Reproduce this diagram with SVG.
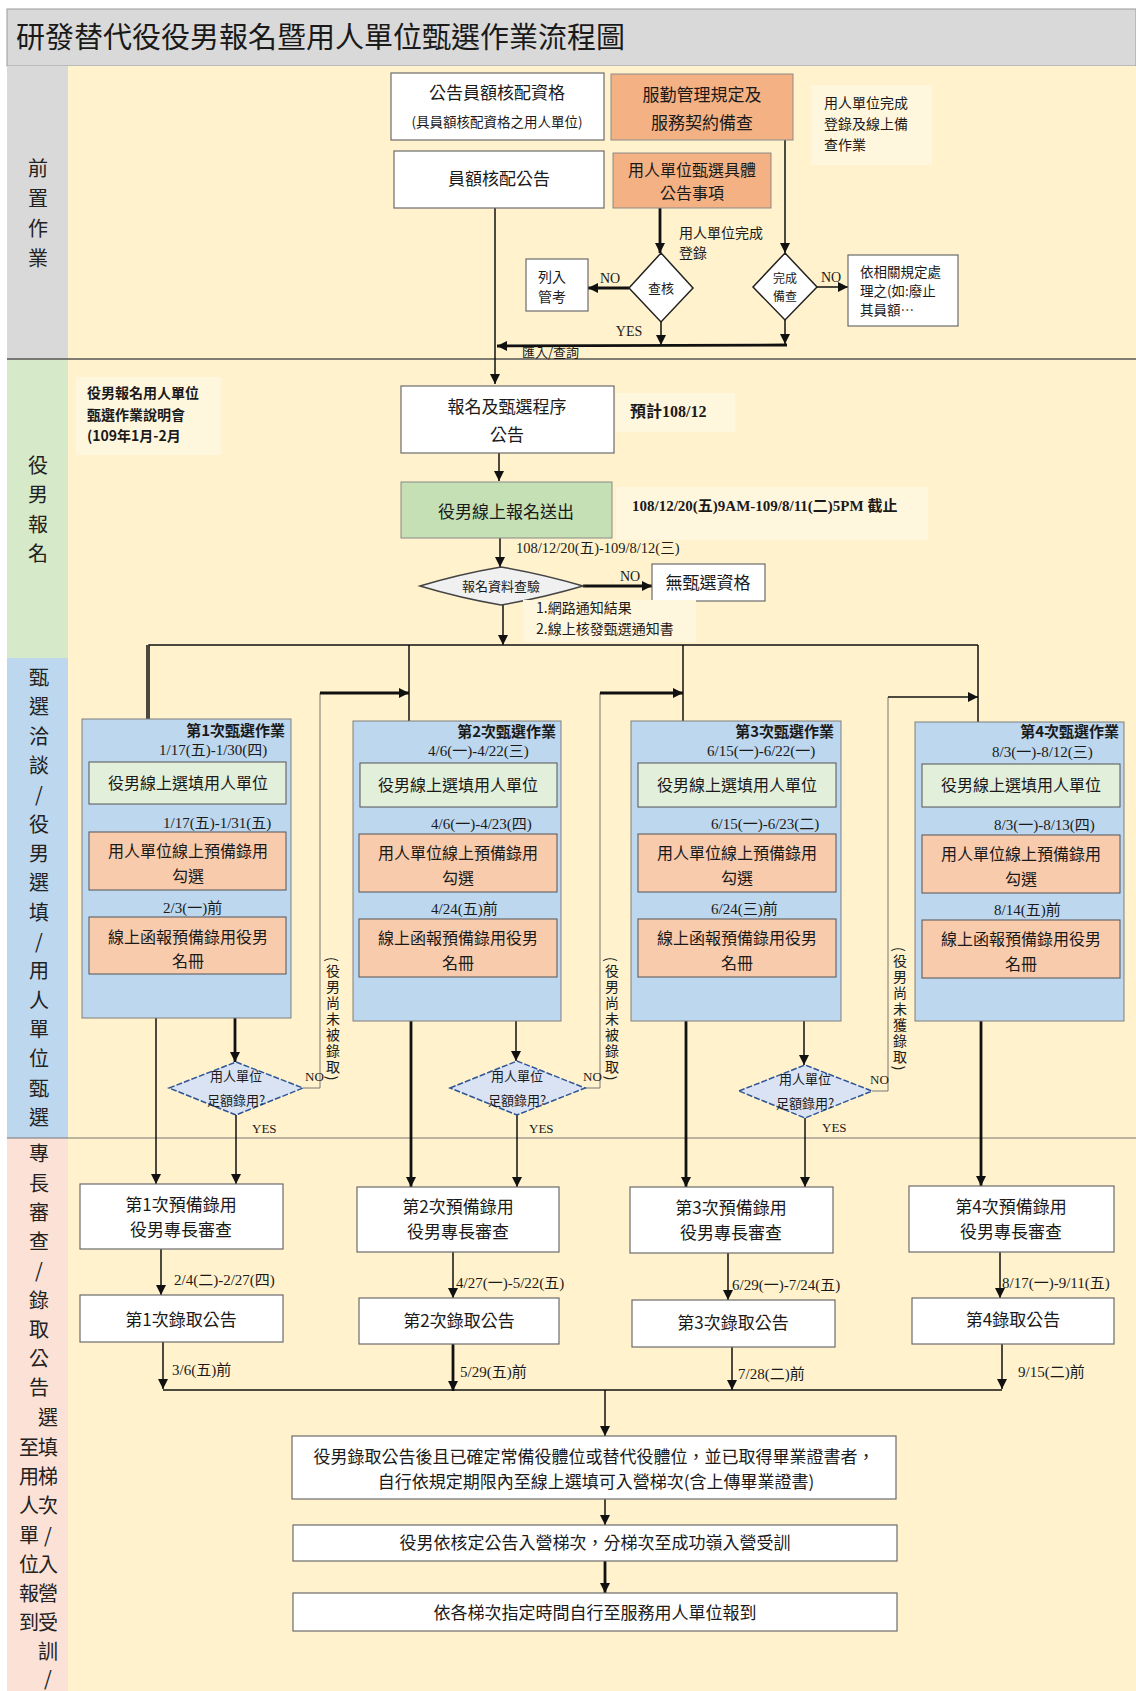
<svg xmlns="http://www.w3.org/2000/svg" width="1136" height="1691" viewBox="0 0 1136 1691">
<style>
.t{font-family:"Noto Sans CJK TC","Noto Sans CJK SC",sans-serif;fill:#1a1a1a}
.d{font-family:"Liberation Serif","Noto Sans CJK TC",serif;fill:#1a1a1a}
.c{text-anchor:middle}
.lab{font-family:"Noto Sans CJK TC",sans-serif;font-size:20px;fill:#222;text-anchor:middle}
.box{fill:#fff;stroke:#6b6b6b;stroke-width:1.2}
.or{fill:#f4b183;stroke:#8a8a8a;stroke-width:1}
.pb{fill:#bdd7ee;stroke:#7f7f7f;stroke-width:1}
.pg{fill:#e2efda;stroke:#555;stroke-width:1}
.po{fill:#f8cbad;stroke:#555;stroke-width:1}
.ln{stroke:#111;fill:none}
.th{stroke-width:1.5}
.tk{stroke-width:2.8}
.lp{stroke:#777;stroke-width:1;fill:none}
.dia{fill:#dae3f3;stroke:#2f5597;stroke-width:1.5;stroke-dasharray:6 2}
.note{fill:#fff6de}
.vt{font-family:"Noto Sans CJK TC",sans-serif;font-size:14px;fill:#1a1a1a;writing-mode:vertical-rl;letter-spacing:2px}
</style>
<defs>
<marker id="ah" viewBox="0 0 10 10" refX="10" refY="5" markerWidth="10" markerHeight="10" markerUnits="userSpaceOnUse" orient="auto">
<path d="M0,0 L10,5 L0,10 z" fill="#111"/>
</marker>
</defs>
<rect width="1136" height="1691" fill="#fff"/>
<!-- title bar -->
<rect x="7" y="9" width="1129" height="57" fill="#d9d9d9" stroke="#9a9a9a" stroke-width="1"/>
<text class="t" x="16" y="48" font-size="29">研發替代役役男報名暨用人單位甄選作業流程圖</text>
<!-- lanes -->
<rect x="7" y="66" width="1129" height="1625" fill="#fff2cc"/>
<rect x="7" y="66" width="61" height="293" fill="#d9d9d9"/>
<rect x="7" y="359" width="61" height="299" fill="#d6e9c8"/>
<rect x="7" y="658" width="61" height="480" fill="#bdd7ee"/>
<rect x="7" y="1138" width="61" height="553" fill="#fbe1d6"/>
<line x1="7" y1="359" x2="1136" y2="359" stroke="#555" stroke-width="1.5"/>
<line x1="7" y1="1138" x2="1136" y2="1138" stroke="#777" stroke-width="1"/>
<g id="lane-labels">
<text class="lab" x="38" y="176">前</text><text class="lab" x="38" y="206">置</text><text class="lab" x="38" y="236">作</text><text class="lab" x="38" y="266">業</text>
<text class="lab" x="38" y="473">役</text><text class="lab" x="38" y="502">男</text><text class="lab" x="38" y="532">報</text><text class="lab" x="38" y="561">名</text>
<text class="lab" x="39" y="685">甄</text><text class="lab" x="39" y="714">選</text><text class="lab" x="39" y="744">洽</text><text class="lab" x="39" y="773">談</text><text class="lab" x="39" y="802">/</text><text class="lab" x="39" y="832">役</text><text class="lab" x="39" y="861">男</text><text class="lab" x="39" y="890">選</text><text class="lab" x="39" y="920">填</text><text class="lab" x="39" y="949">/</text><text class="lab" x="39" y="978">用</text><text class="lab" x="39" y="1008">人</text><text class="lab" x="39" y="1037">單</text><text class="lab" x="39" y="1066">位</text><text class="lab" x="39" y="1096">甄</text><text class="lab" x="39" y="1125">選</text>
<text class="lab" x="39" y="1161">專</text><text class="lab" x="39" y="1191">長</text><text class="lab" x="39" y="1220">審</text><text class="lab" x="39" y="1249">查</text><text class="lab" x="39" y="1278">/</text><text class="lab" x="39" y="1308">錄</text><text class="lab" x="39" y="1337">取</text><text class="lab" x="39" y="1366">公</text><text class="lab" x="39" y="1395">告</text>
<text class="lab" x="48" y="1425">選</text><text class="lab" x="48" y="1455">填</text><text class="lab" x="48" y="1484">梯</text><text class="lab" x="48" y="1513">次</text><text class="lab" x="48" y="1543">/</text><text class="lab" x="48" y="1572">入</text><text class="lab" x="48" y="1601">營</text><text class="lab" x="48" y="1630">受</text><text class="lab" x="48" y="1659">訓</text><text class="lab" x="48" y="1686" font-size="14">/</text>
<text class="lab" x="29" y="1455">至</text><text class="lab" x="29" y="1484">用</text><text class="lab" x="29" y="1513">人</text><text class="lab" x="29" y="1543">單</text><text class="lab" x="29" y="1572">位</text><text class="lab" x="29" y="1601">報</text><text class="lab" x="29" y="1630">到</text>
</g>
<!-- connectors -->
<g id="connectors">
<line class="ln th" x1="495" y1="208" x2="495" y2="384" marker-end="url(#ah)" stroke-width="2"/>
<line class="ln tk" x1="660" y1="208" x2="660" y2="253" marker-end="url(#ah)"/>
<line class="ln tk" x1="629" y1="288" x2="588" y2="288" marker-end="url(#ah)"/>
<line class="ln th" x1="661" y1="322" x2="661" y2="345" marker-end="url(#ah)" stroke-width="2"/>
<line class="ln th" x1="785" y1="140" x2="785" y2="253" marker-end="url(#ah)" stroke-width="2"/>
<line class="ln th" x1="817" y1="287" x2="848" y2="287" marker-end="url(#ah)" stroke-width="2"/>
<line class="ln th" x1="785" y1="320" x2="785" y2="344" marker-end="url(#ah)" stroke-width="2"/>
<line class="ln tk" x1="787" y1="345" x2="497" y2="346" marker-end="url(#ah)" stroke-width="2.2"/>
<line class="ln th" x1="499" y1="453" x2="499" y2="481" marker-end="url(#ah)" stroke-width="2"/>
<line class="ln th" x1="500" y1="538" x2="500" y2="567" marker-end="url(#ah)" stroke-width="2"/>
<line class="ln tk" x1="583" y1="586" x2="652" y2="586" marker-end="url(#ah)"/>
<line class="ln th" x1="503" y1="605" x2="503" y2="645" marker-end="url(#ah)" stroke-width="2"/>
<polyline class="ln th" points="149,760 149,645 978,645" stroke-width="1.2"/>
<line class="ln th" x1="147" y1="645" x2="147" y2="762" marker-end="url(#ah)" stroke-width="2"/>
<line class="ln th" x1="409" y1="645" x2="409" y2="763" marker-end="url(#ah)"/>
<line class="ln th" x1="683" y1="645" x2="683" y2="763" marker-end="url(#ah)" stroke-width="2.2"/>
<line class="ln th" x1="978" y1="645" x2="978" y2="764" marker-end="url(#ah)" stroke-width="2"/>
<line class="ln th" x1="150" y1="804" x2="150" y2="832" marker-end="url(#ah)" stroke-width="2"/>
<line class="ln th" x1="152" y1="890" x2="152" y2="917" marker-end="url(#ah)" stroke-width="2"/>
<line class="ln th" x1="410" y1="807" x2="410" y2="834" marker-end="url(#ah)" stroke-width="2"/>
<line class="ln th" x1="414" y1="892" x2="414" y2="919" marker-end="url(#ah)" stroke-width="2"/>
<line class="ln th" x1="685" y1="807" x2="685" y2="834" marker-end="url(#ah)" stroke-width="2"/>
<line class="ln th" x1="685" y1="892" x2="685" y2="919" marker-end="url(#ah)" stroke-width="2"/>
<line class="ln th" x1="981" y1="807" x2="981" y2="835" marker-end="url(#ah)" stroke-width="2"/>
<line class="ln th" x1="981" y1="893" x2="981" y2="920" marker-end="url(#ah)" stroke-width="2"/>
<line class="ln th" x1="156" y1="974" x2="156" y2="1184" marker-end="url(#ah)"/>
<line class="ln tk" x1="235" y1="974" x2="235" y2="1062" marker-end="url(#ah)"/>
<line class="ln th" x1="236" y1="1115" x2="236" y2="1184" marker-end="url(#ah)"/>
<polyline class="lp" points="303,1088 320,1088 320,693"/>
<line class="ln tk" x1="320" y1="693" x2="409" y2="693" marker-end="url(#ah)"/>
<line class="ln tk" x1="411" y1="977" x2="411" y2="1187" marker-end="url(#ah)"/>
<line class="ln th" x1="516" y1="977" x2="516" y2="1061" marker-end="url(#ah)"/>
<line class="ln th" x1="517" y1="1115" x2="517" y2="1187" marker-end="url(#ah)" stroke-width="2"/>
<polyline class="lp" points="585,1088 600,1088 600,693"/>
<line class="ln tk" x1="600" y1="693" x2="683" y2="693" marker-end="url(#ah)"/>
<line class="ln tk" x1="686" y1="977" x2="686" y2="1187" marker-end="url(#ah)"/>
<line class="ln th" x1="804" y1="977" x2="804" y2="1065" marker-end="url(#ah)"/>
<line class="ln th" x1="805" y1="1118" x2="805" y2="1187" marker-end="url(#ah)"/>
<polyline class="lp" points="872,1091 888,1091 888,697"/>
<line class="ln th" x1="888" y1="697" x2="978" y2="697" marker-end="url(#ah)" stroke-width="2"/>
<line class="ln tk" x1="981" y1="978" x2="981" y2="1186" marker-end="url(#ah)"/>
<line class="ln th" x1="161" y1="1249" x2="161" y2="1295" marker-end="url(#ah)" stroke-width="2"/>
<line class="ln th" x1="453" y1="1252" x2="453" y2="1298" marker-end="url(#ah)" stroke-width="2"/>
<line class="ln th" x1="728" y1="1253" x2="728" y2="1300" marker-end="url(#ah)" stroke-width="1.5"/>
<line class="ln th" x1="1000" y1="1252" x2="1000" y2="1298" marker-end="url(#ah)" stroke-width="2"/>
<line class="ln th" x1="163" y1="1342" x2="163" y2="1389" marker-end="url(#ah)" stroke-width="2"/>
<line class="ln tk" x1="453" y1="1344" x2="453" y2="1391" marker-end="url(#ah)"/>
<line class="ln th" x1="732" y1="1347" x2="732" y2="1390" marker-end="url(#ah)"/>
<line class="ln th" x1="1002" y1="1344" x2="1002" y2="1389" marker-end="url(#ah)" stroke-width="2"/>
<line class="ln th" x1="163" y1="1390" x2="1002" y2="1390" stroke-width="1.5"/>
<line class="ln th" x1="605" y1="1390" x2="605" y2="1436" marker-end="url(#ah)"/>
<line class="ln th" x1="605" y1="1499" x2="605" y2="1525" marker-end="url(#ah)"/>
<line class="ln tk" x1="605" y1="1561" x2="605" y2="1593" marker-end="url(#ah)"/>
</g>
<!-- lane 1 nodes -->
<g id="n-quota-qual"><rect class="box" x="391" y="73" width="213" height="67"/><text class="t c" x="497" y="99" font-size="17">公告員額核配資格</text><text class="t c" x="497" y="127" font-size="13.5">(具員額核配資格之用人單位)</text></g>
<g id="n-service-rules"><rect class="or" x="611" y="74" width="182" height="66"/><text class="t c" x="702" y="101" font-size="17">服勤管理規定及</text><text class="t c" x="702" y="129" font-size="17">服務契約備查</text></g>
<g id="note-register"><rect class="note" x="811" y="85" width="121" height="80"/><text class="t" x="824" y="108" font-size="14">用人單位完成</text><text class="t" x="824" y="129" font-size="14">登錄及線上備</text><text class="t" x="824" y="150" font-size="14">查作業</text></g>
<g id="n-quota-ann"><rect class="box" x="394" y="151" width="210" height="57"/><text class="t c" x="499" y="185" font-size="17">員額核配公告</text></g>
<g id="n-unit-items"><rect class="or" x="613" y="153" width="158" height="55"/><text class="t c" x="692" y="176" font-size="16">用人單位甄選具體</text><text class="t c" x="692" y="199" font-size="16">公告事項</text></g>
<text class="t" x="679" y="238" font-size="14">用人單位完成</text><text class="t" x="679" y="258" font-size="14">登錄</text>
<g id="d-check"><polygon points="661,253 693,288 661,322 629,288" fill="#fff" stroke="#222" stroke-width="1.5"/><text class="t c" x="661" y="293" font-size="13">查核</text></g>
<text class="d c" x="610" y="283" font-size="14">NO</text>
<text class="d c" x="629" y="336" font-size="14">YES</text>
<g id="n-track"><rect class="box" x="526" y="259" width="62" height="52"/><text class="t" x="538" y="282" font-size="14">列入</text><text class="t" x="538" y="302" font-size="14">管考</text></g>
<g id="d-filed"><polygon points="785,253 817,287 785,320 753,287" fill="#fff" stroke="#222" stroke-width="1.5"/><text class="t c" x="785" y="283" font-size="12">完成</text><text class="t c" x="785" y="301" font-size="12">備查</text></g>
<text class="d c" x="831" y="282" font-size="14">NO</text>
<g id="n-handle"><rect class="box" x="848" y="255" width="110" height="71"/><text class="t" x="860" y="277" font-size="13.5">依相關規定處</text><text class="t" x="860" y="296" font-size="13.5">理之(如:廢止</text><text class="t" x="860" y="315" font-size="13.5">其員額…</text></g>
<text class="t" x="522" y="357" font-size="13">匯入/查詢</text>
<!-- lane 2 nodes -->
<g id="note-briefing"><rect class="note" x="76" y="377" width="145" height="78"/><text class="t" x="87" y="398" font-size="14" font-weight="bold">役男報名用人單位</text><text class="t" x="87" y="420" font-size="14" font-weight="bold">甄選作業說明會</text><text class="t" x="87" y="441" font-size="14" font-weight="bold">(109年1月-2月</text></g>
<g id="n-proc-ann"><rect class="box" x="401" y="386" width="213" height="67"/><text class="t c" x="507" y="413" font-size="17">報名及甄選程序</text><text class="t c" x="507" y="441" font-size="17">公告</text></g>
<rect class="note" x="616" y="393" width="119" height="39"/>
<text class="d" x="630" y="417" font-size="16" font-weight="bold">預計108/12</text>
<g id="n-submit"><rect x="401" y="482" width="211" height="56" fill="#c5e0b4" stroke="#888"/><text class="t c" x="506" y="518" font-size="17">役男線上報名送出</text></g>
<rect class="note" x="616" y="487" width="312" height="53"/>
<text class="d" x="632" y="511" font-size="15" font-weight="bold">108/12/20(五)9AM-109/8/11(二)5PM 截止</text>
<text class="d" x="516" y="553" font-size="14.5">108/12/20(五)-109/8/12(三)</text>
<g id="d-verify"><path d="M420,586 Q460,574 501,567 Q542,574 583,586 Q542,598 501,605 Q460,598 420,586 z" fill="#f0f0f0" stroke="#444" stroke-width="1.5"/><text class="t c" x="501" y="591" font-size="13">報名資料查驗</text></g>
<text class="d c" x="630" y="581" font-size="14">NO</text>
<g id="n-noqual"><rect class="box" x="652" y="564" width="113" height="37"/><text class="t c" x="708" y="589" font-size="17">無甄選資格</text></g>
<rect class="note" x="523" y="600" width="173" height="42"/>
<text class="t" x="536" y="613" font-size="14">1.網路通知結果</text>
<text class="t" x="536" y="634" font-size="14">2.線上核發甄選通知書</text>
<!-- lane 3 panels -->
<g id="panel-1">
<rect class="pb" x="82" y="719" width="209" height="299"/>
<text class="t" x="285" y="736" font-size="15" font-weight="bold" text-anchor="end">第1次甄選作業</text>
<text class="d" x="159" y="755" font-size="15">1/17(五)-1/30(四)</text>
<rect class="pg" x="89" y="762" width="197" height="42"/><text class="t c" x="188" y="789" font-size="16">役男線上選填用人單位</text>
<text class="d" x="163" y="828" font-size="15">1/17(五)-1/31(五)</text>
<rect class="po" x="89" y="832" width="197" height="58"/><text class="t c" x="188" y="857" font-size="16">用人單位線上預備錄用</text><text class="t c" x="188" y="882" font-size="16">勾選</text>
<text class="d" x="163" y="913" font-size="15">2/3(一)前</text>
<rect class="po" x="89" y="917" width="197" height="57"/><text class="t c" x="188" y="943" font-size="16">線上函報預備錄用役男</text><text class="t c" x="188" y="967" font-size="16">名冊</text>
</g>
<g id="panel-2">
<rect class="pb" x="353" y="721" width="208" height="300"/>
<text class="t" x="556" y="737" font-size="15" font-weight="bold" text-anchor="end">第2次甄選作業</text>
<text class="d" x="428" y="756" font-size="15">4/6(一)-4/22(三)</text>
<rect class="pg" x="360" y="763" width="197" height="44"/><text class="t c" x="458" y="791" font-size="16">役男線上選填用人單位</text>
<text class="d" x="431" y="829" font-size="15">4/6(一)-4/23(四)</text>
<rect class="po" x="359" y="834" width="198" height="58"/><text class="t c" x="458" y="859" font-size="16">用人單位線上預備錄用</text><text class="t c" x="458" y="884" font-size="16">勾選</text>
<text class="d" x="431" y="914" font-size="15">4/24(五)前</text>
<rect class="po" x="359" y="919" width="198" height="58"/><text class="t c" x="458" y="944" font-size="16">線上函報預備錄用役男</text><text class="t c" x="458" y="969" font-size="16">名冊</text>
</g>
<g id="panel-3">
<rect class="pb" x="631" y="721" width="210" height="300"/>
<text class="t" x="834" y="737" font-size="15" font-weight="bold" text-anchor="end">第3次甄選作業</text>
<text class="d" x="707" y="756" font-size="15">6/15(一)-6/22(一)</text>
<rect class="pg" x="638" y="763" width="198" height="44"/><text class="t c" x="737" y="791" font-size="16">役男線上選填用人單位</text>
<text class="d" x="711" y="829" font-size="15">6/15(一)-6/23(二)</text>
<rect class="po" x="638" y="834" width="198" height="58"/><text class="t c" x="737" y="859" font-size="16">用人單位線上預備錄用</text><text class="t c" x="737" y="884" font-size="16">勾選</text>
<text class="d" x="711" y="914" font-size="15">6/24(三)前</text>
<rect class="po" x="638" y="919" width="198" height="58"/><text class="t c" x="737" y="944" font-size="16">線上函報預備錄用役男</text><text class="t c" x="737" y="969" font-size="16">名冊</text>
</g>
<g id="panel-4">
<rect class="pb" x="915" y="722" width="209" height="299"/>
<text class="t" x="1119" y="737" font-size="15" font-weight="bold" text-anchor="end">第4次甄選作業</text>
<text class="d" x="992" y="757" font-size="15">8/3(一)-8/12(三)</text>
<rect class="pg" x="922" y="764" width="198" height="43"/><text class="t c" x="1021" y="791" font-size="16">役男線上選填用人單位</text>
<text class="d" x="994" y="830" font-size="15">8/3(一)-8/13(四)</text>
<rect class="po" x="922" y="835" width="198" height="58"/><text class="t c" x="1021" y="860" font-size="16">用人單位線上預備錄用</text><text class="t c" x="1021" y="885" font-size="16">勾選</text>
<text class="d" x="994" y="915" font-size="15">8/14(五)前</text>
<rect class="po" x="922" y="920" width="198" height="58"/><text class="t c" x="1021" y="945" font-size="16">線上函報預備錄用役男</text><text class="t c" x="1021" y="970" font-size="16">名冊</text>
</g>
<!-- diamonds lane 3 -->
<g id="d-full-1"><polygon class="dia" points="169,1088 236,1062 303,1088 236,1115"/><text class="t c" x="236" y="1081" font-size="13">用人單位</text><text class="t c" x="236" y="1105" font-size="13">足額錄用?</text></g>
<g id="d-full-2"><polygon class="dia" points="450,1088 517,1061 585,1088 517,1115"/><text class="t c" x="517" y="1081" font-size="13">用人單位</text><text class="t c" x="517" y="1105" font-size="13">足額錄用?</text></g>
<g id="d-full-3"><polygon class="dia" points="739,1091 805,1065 872,1091 805,1118"/><text class="t c" x="805" y="1084" font-size="13">用人單位</text><text class="t c" x="805" y="1108" font-size="13">足額錄用?</text></g>
<g font-size="13">
<text class="d" x="305" y="1081">NO</text><text class="d" x="252" y="1133">YES</text>
<text class="d" x="583" y="1081">NO</text><text class="d" x="529" y="1133">YES</text>
<text class="d" x="870" y="1084">NO</text><text class="d" x="822" y="1132">YES</text>
</g>
<g id="loop-labels">
<text class="vt" x="333" y="957">(役男尚未被錄取)</text>
<text class="vt" x="612" y="957">(役男尚未被錄取)</text>
<text class="vt" x="900" y="947">(役男尚未獲錄取)</text>
</g>
<!-- lane 4 nodes -->
<g id="n-review-1"><rect class="box" x="80" y="1184" width="203" height="65"/><text class="t c" x="181" y="1211" font-size="17">第1次預備錄用</text><text class="t c" x="181" y="1236" font-size="17">役男專長審查</text></g>
<g id="n-review-2"><rect class="box" x="357" y="1187" width="202" height="65"/><text class="t c" x="458" y="1213" font-size="17">第2次預備錄用</text><text class="t c" x="458" y="1238" font-size="17">役男專長審查</text></g>
<g id="n-review-3"><rect class="box" x="630" y="1187" width="203" height="66"/><text class="t c" x="731" y="1214" font-size="17">第3次預備錄用</text><text class="t c" x="731" y="1239" font-size="17">役男專長審查</text></g>
<g id="n-review-4"><rect class="box" x="909" y="1186" width="205" height="66"/><text class="t c" x="1011" y="1213" font-size="17">第4次預備錄用</text><text class="t c" x="1011" y="1238" font-size="17">役男專長審查</text></g>
<text class="d" x="174" y="1285" font-size="15">2/4(二)-2/27(四)</text>
<text class="d" x="456" y="1288" font-size="15">4/27(一)-5/22(五)</text>
<text class="d" x="732" y="1290" font-size="15">6/29(一)-7/24(五)</text>
<text class="d" x="1002" y="1288" font-size="15">8/17(一)-9/11(五)</text>
<g id="n-admit-1"><rect class="box" x="80" y="1295" width="203" height="47"/><text class="t c" x="181" y="1326" font-size="17">第1次錄取公告</text></g>
<g id="n-admit-2"><rect class="box" x="359" y="1298" width="200" height="46"/><text class="t c" x="459" y="1327" font-size="17">第2次錄取公告</text></g>
<g id="n-admit-3"><rect class="box" x="632" y="1300" width="203" height="47"/><text class="t c" x="733" y="1329" font-size="17">第3次錄取公告</text></g>
<g id="n-admit-4"><rect class="box" x="912" y="1298" width="202" height="46"/><text class="t c" x="1013" y="1326" font-size="17">第4錄取公告</text></g>
<text class="d" x="172" y="1375" font-size="15">3/6(五)前</text>
<text class="d" x="460" y="1377" font-size="15">5/29(五)前</text>
<text class="d" x="738" y="1379" font-size="15">7/28(二)前</text>
<text class="d" x="1018" y="1377" font-size="15">9/15(二)前</text>
<g id="n-select-batch"><rect class="box" x="292" y="1436" width="604" height="63"/><text class="t c" x="594" y="1463" font-size="17">役男錄取公告後且已確定常備役體位或替代役體位，並已取得畢業證書者，</text><text class="t c" x="596" y="1488" font-size="17">自行依規定期限內至線上選填可入營梯次(含上傳畢業證書)</text></g>
<g id="n-training"><rect class="box" x="293" y="1525" width="604" height="36"/><text class="t c" x="595" y="1549" font-size="17">役男依核定公告入營梯次，分梯次至成功嶺入營受訓</text></g>
<g id="n-report"><rect class="box" x="293" y="1593" width="604" height="38"/><text class="t c" x="595" y="1619" font-size="17">依各梯次指定時間自行至服務用人單位報到</text></g>
</svg>
